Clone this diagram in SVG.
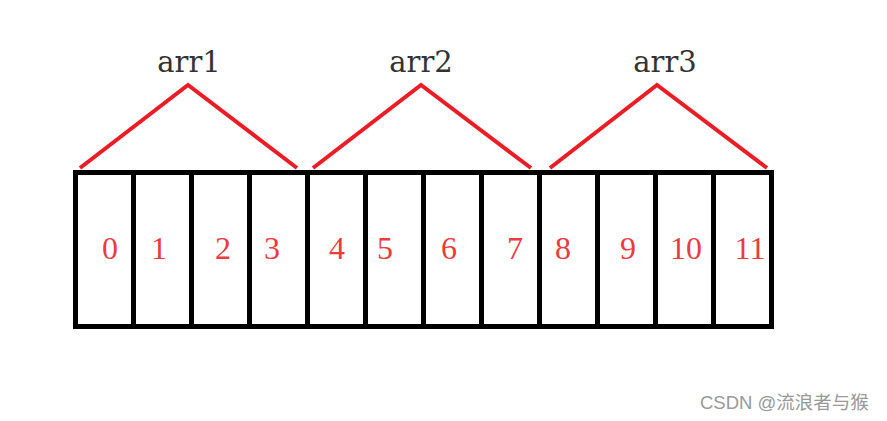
<svg xmlns="http://www.w3.org/2000/svg" width="887" height="421" viewBox="0 0 887 421">
<style>
.cell{fill:#fff;stroke:#000;stroke-width:5}
.idx{font-family:"Liberation Serif","DejaVu Serif",serif;font-size:32px;fill:#ec3a3f;text-anchor:middle}
.lbl{font-family:"DejaVu Serif","Liberation Serif",serif;font-size:29px;fill:#333;text-anchor:middle}
.br{fill:none;stroke:#ec1c24;stroke-width:4;stroke-linejoin:miter}
.wm{font-family:"Liberation Sans","Noto Sans CJK SC",sans-serif;font-size:18.5px;fill:#999}
</style>
<rect width="887" height="421" fill="#fff"/>
<g id="array">
<rect class="cell" x="75.5" y="172.5" width="58" height="154"/>
<rect class="cell" x="133.5" y="172.5" width="58" height="154"/>
<rect class="cell" x="191.5" y="172.5" width="58" height="154"/>
<rect class="cell" x="249.5" y="172.5" width="58" height="154"/>
<rect class="cell" x="307.5" y="172.5" width="58" height="154"/>
<rect class="cell" x="365.5" y="172.5" width="58" height="154"/>
<rect class="cell" x="423.5" y="172.5" width="58" height="154"/>
<rect class="cell" x="481.5" y="172.5" width="58" height="154"/>
<rect class="cell" x="539.5" y="172.5" width="58" height="154"/>
<rect class="cell" x="597.5" y="172.5" width="58" height="154"/>
<rect class="cell" x="655.5" y="172.5" width="58" height="154"/>
<rect class="cell" x="713.5" y="172.5" width="58" height="154"/>
</g>
<g id="indices">
<text class="idx" x="110" y="259">0</text>
<text class="idx" x="159" y="259">1</text>
<text class="idx" x="223" y="259">2</text>
<text class="idx" x="272" y="259">3</text>
<text class="idx" x="337" y="259">4</text>
<text class="idx" x="385" y="259">5</text>
<text class="idx" x="449" y="259">6</text>
<text class="idx" x="515" y="259">7</text>
<text class="idx" x="563" y="259">8</text>
<text class="idx" x="628" y="259">9</text>
<text class="idx" x="686" y="259">10</text>
<text class="idx" x="750" y="259">11</text>
</g>
<g id="connectors">
<polyline class="br" points="80,168 188,85 297,168"/>
<polyline class="br" points="313,168 421,85 531,168"/>
<polyline class="br" points="550,168 657,85 767,168"/>
</g>
<g id="arr1"><text class="lbl" x="189" y="72">arr1</text></g>
<g id="arr2"><text class="lbl" x="421" y="72">arr2</text></g>
<g id="arr3"><text class="lbl" x="665" y="72">arr3</text></g>
<text class="wm" x="700" y="409">CSDN @流浪者与猴</text>
</svg>
